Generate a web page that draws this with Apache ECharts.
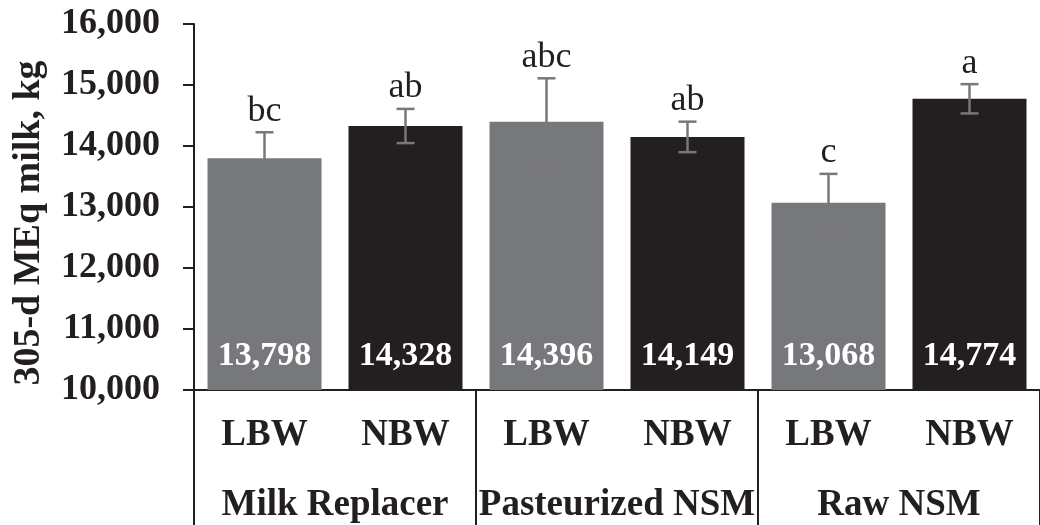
<!DOCTYPE html>
<html>
<head>
<meta charset="utf-8">
<script src="https://cdn.jsdelivr.net/npm/echarts@6/dist/echarts.min.js"></script>
<style>html,body{margin:0;padding:0;background:#fff;}#c{width:1040px;height:525px;}</style>
</head>
<body>
<div id="c"></div>
<script>
var categories = ['LBW', 'NBW', 'LBW', 'NBW', 'LBW', 'NBW'];
var groups = ['Milk Replacer', 'Pasteurized NSM', 'Raw NSM'];
var milkValues = [13798, 14328, 14396, 14149, 13068, 14774];
var seValues = [427, 280, 714, 250, 475, 240];
var letters = ['bc', 'ab', 'abc', 'ab', 'c', 'a'];
var yTicks = [10000, 11000, 12000, 13000, 14000, 15000, 16000];

var GRAY = '#77787b', BLACK = '#231f20', ERR = '#77787b';
var SERIF = '"Liberation Serif", "DejaVu Serif", serif';

var chart = echarts.init(document.getElementById('c'), null, {renderer: 'canvas'});

var errData = milkValues.map(function (v, i) { return [i, v - seValues[i], v + seValues[i], letters[i]]; });

chart.setOption({
  animation: false,
  backgroundColor: '#fff',
  grid: {left: 194, top: 24, width: 858, height: 366, containLabel: false},
  xAxis: [{
    type: 'category', data: categories, position: 'bottom',
    axisLine: {show: true, onZero: false, lineStyle: {color: BLACK, width: 2}},
    axisTick: {show: false},
    axisLabel: {color: BLACK, fontFamily: SERIF, fontWeight: 'bold', fontSize: 37, margin: 27, interval: 0}
  }, {
    type: 'category', data: groups, position: 'bottom', offset: 0,
    axisLine: {show: false},
    axisTick: {show: true, length: 136, interval: 0, lineStyle: {color: BLACK, width: 2}},
    axisLabel: {color: BLACK, fontFamily: SERIF, fontWeight: 'bold', fontSize: 37, margin: 97, interval: 0}
  }],
  yAxis: {
    type: 'value', min: yTicks[0], max: yTicks[yTicks.length - 1], interval: 1000,
    axisLine: {show: true, lineStyle: {color: BLACK, width: 2}},
    axisTick: {show: true, length: 11, lineStyle: {color: BLACK, width: 2}},
    splitLine: {show: false},
    axisLabel: {color: BLACK, fontFamily: SERIF, fontWeight: 'bold', fontSize: 36, margin: 34,
      formatter: function (v) { return v.toLocaleString('en-US'); }}
  },
  graphic: [{
    type: 'text', x: 29, y: 223, rotation: Math.PI / 2,
    style: {text: '305-d MEq milk, kg', fill: BLACK, font: 'bold 38px ' + SERIF, textAlign: 'center', textVerticalAlign: 'middle'}
  }],
  series: [{
    type: 'bar', xAxisIndex: 0,
    barWidth: 114,
    data: milkValues.map(function (v, i) { return {value: v, itemStyle: {color: i % 2 === 0 ? GRAY : BLACK}}; }),
    label: {show: true, position: 'insideBottom', distance: 17, color: '#fff', fontFamily: SERIF, fontWeight: 'bold', fontSize: 34,
      formatter: function (p) { return p.value.toLocaleString('en-US'); }}
  }, {
    type: 'custom', xAxisIndex: 0, z: 10,
    data: errData,
    renderItem: function (params, api) {
      var x = api.coord([api.value(0), api.value(1)])[0];
      var yLo = api.coord([api.value(0), api.value(1)])[1];
      var yHi = api.coord([api.value(0), api.value(2)])[1];
      var hw = 9;
      var ls = {stroke: ERR, lineWidth: 2.5};
      return {type: 'group', children: [
        {type: 'line', shape: {x1: x, y1: yLo, x2: x, y2: yHi}, style: ls},
        {type: 'line', shape: {x1: x - hw, y1: yHi, x2: x + hw, y2: yHi}, style: ls},
        {type: 'line', shape: {x1: x - hw, y1: yLo, x2: x + hw, y2: yLo}, style: ls},
        {type: 'text', style: {text: letters[params.dataIndex], x: x, y: yHi - 3, fill: BLACK,
          font: '36px ' + SERIF, textAlign: 'center', textVerticalAlign: 'bottom'}}
      ]};
    }
  }]
});
</script>
</body>
</html>
